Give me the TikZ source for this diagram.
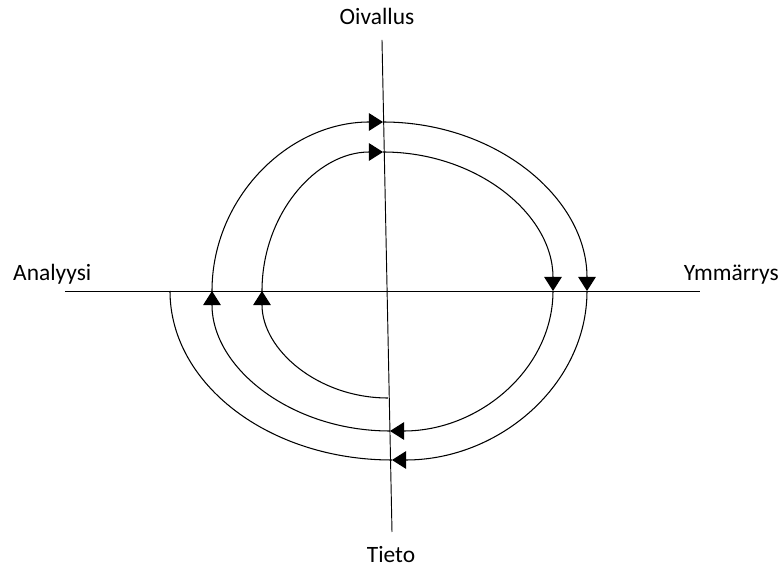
\documentclass[tikz,border=0pt]{standalone}
\usepackage{fontspec}
\setmainfont{Carlito}
\usetikzlibrary{arrows.meta}

\begin{document}
\begin{tikzpicture}[x=0.03cm,y=0.03cm,>={Triangle[length=12pt,width=15pt]},
    axis/.style={line width=0.8pt},
    loop/.style={line width=0.9pt},
    lbl/.style={inner sep=0pt,font=\fontsize{20}{24}\selectfont}]
    \useasboundingbox (-388,-277) rectangle (393,291);
    % axes
    \coordinate (west) at (-323,0);
    \coordinate (east) at (312,0);
    \coordinate (north) at (-6,251);
    \coordinate (south) at (4,-241);
    \draw[axis] (west) -- (east);
    \draw[axis] (north) -- (south);
    \node[lbl,anchor=base] (oivallus) at (-11,266) {Oivallus};
    \node[lbl,anchor=base] (tieto) at (3,-272) {Tieto};
    \node[lbl,anchor=base west] (analyysi) at (-375,10) {Analyysi};
    \node[lbl,anchor=base east] (ymmarrys) at (391,10) {Ymmärrys};
    % spiral, from the inside out
    \draw[loop,->] (0,-107) arc[start angle=270,end angle=180,x radius=126,y radius=107];
    \draw[loop,->] (-126,0) arc[start angle=180,end angle=90,x radius=121,y radius=139];
    \draw[loop,->] (-5,139) arc[start angle=90,end angle=0,x radius=170,y radius=139];
    \draw[loop,->] (165,0) arc[start angle=0,end angle=-90,x radius=163,y radius=140];
    \draw[loop,->] (2,-140) arc[start angle=270,end angle=180,x radius=178,y radius=140];
    \draw[loop,->] (-176,0) arc[start angle=180,end angle=90,x radius=171,y radius=169];
    \draw[loop,->] (-5,169) arc[start angle=90,end angle=0,x radius=204,y radius=169];
    \draw[loop,->] (199,0) arc[start angle=0,end angle=-90,x radius=195,y radius=169];
    \draw[loop] (4,-169) arc[start angle=270,end angle=180,x radius=222,y radius=169];
  \end{tikzpicture}
\end{document}
